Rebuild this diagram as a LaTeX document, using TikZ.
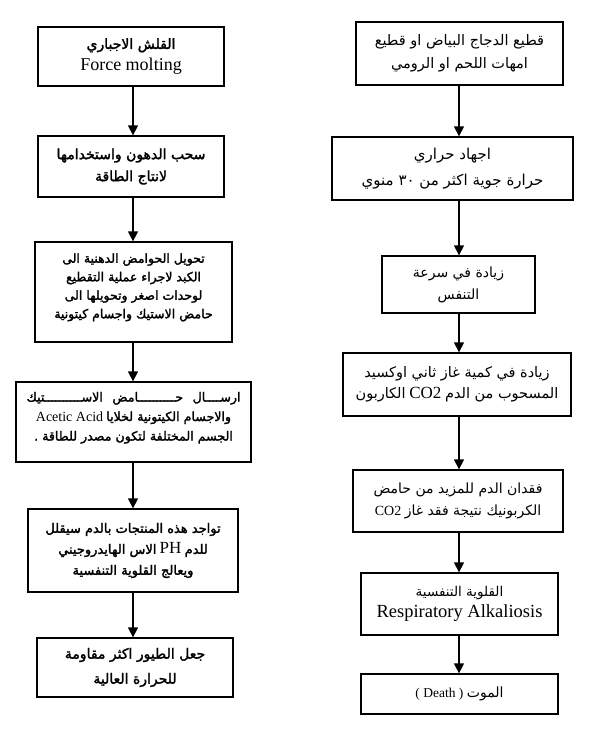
\documentclass[tikz,border=0pt]{standalone}
\usepackage{fontspec}
\usetikzlibrary{arrows.meta}
\setmainfont{Liberation Serif}
\newfontfamily\arfont[Script=Arabic]{DejaVu Sans}
\newfontfamily\arfontb[Script=Arabic,FakeBold=2]{DejaVu Sans}
\TeXXeTstate=1
\newcommand\AR[1]{{\arfont\beginR #1\endR}}
\newcommand\ARB[1]{{\arfontb\beginR #1\endR}}
\newcommand\EN[2]{{\fontsize{#1}{#1}\selectfont #2}}
\newcommand\fs[2]{\fontsize{#1}{#2}\selectfont}
\begin{document}
\begin{tikzpicture}[x=1pt,y=-1pt,
  box/.style={draw,line width=1.3pt,inner sep=0pt,align=center},
  arr/.style={line width=1.3pt,-{Triangle[length=10pt,width=10pt]}}]
\useasboundingbox (0,0) rectangle (605,748);
\coordinate (lc) at (133,0);
\coordinate (rc) at (459,0);
% left column
\node[box,font=\fs{14}{21},minimum width=186pt,minimum height=59pt] (L1) at (131,56.5)
  {\ARB{القلش الاجباري}\\[1pt]\EN{18}{Force molting}};
\node[box,font=\fs{14}{22},minimum width=186pt,minimum height=61pt] (L2) at (131,166.5)
  {\ARB{سحب الدهون واستخدامها}\\\ARB{لانتاج الطاقة}};
\node[box,font=\fs{12.5}{18.5},minimum width=197pt,minimum height=100pt] (L3) at (133.5,292)
  {\ARB{تحويل الحوامض الدهنية الى}\\\ARB{الكبد لاجراء عملية التقطيع}\\\ARB{لوحدات اصغر وتحويلها الى}\\\ARB{حامض الاستيك واجسام كيتونية}\\[-6pt]\mbox{}};
\node[box,font=\fs{12.6}{19.5},minimum width=235pt,minimum height=80pt] (L4) at (133.5,422)
  {\leavevmode\hbox to 214pt{\ARB{الاســــــــــتيك}\hfill\ARB{حــــــــــامض}\hfill\ARB{ارســــال}}\\\EN{14}{Acetic Acid} \ARB{والاجسام الكيتونية لخلايا}\\\ARB{الجسم المختلفة لتكون مصدر للطاقة .}\\[-8pt]\mbox{}};
\node[box,font=\fs{13}{21},minimum width=210pt,minimum height=83pt] (L5) at (133,550.5)
  {\ARB{تواجد هذه المنتجات بالدم سيقلل}\\\ARB{الاس الهايدروجيني} \EN{17}{PH} \ARB{للدم}\\\ARB{ويعالج القلوية التنفسية}};
\node[box,font=\fs{14}{25},minimum width=196pt,minimum height=59pt] (L6) at (135,667.5)
  {\ARB{جعل الطيور اكثر مقاومة}\\\ARB{للحرارة العالية}};
% right column
\node[box,font=\fs{14.5}{22.5},minimum width=207pt,minimum height=63pt] (R1) at (459.5,53.5)
  {\AR{قطيع الدجاج البياض او قطيع}\\\AR{امهات اللحم او الرومي}};
\node[box,font=\fs{15}{26},minimum width=241pt,minimum height=63pt] (R2) at (452.5,168.5)
  {\AR{اجهاد حراري}\\\AR{حرارة جوية اكثر من \beginL٣٠\endL{} منوي}};
\node[box,font=\fs{14}{22},minimum width=153pt,minimum height=57pt] (R3) at (458.5,284.5)
  {\AR{زيادة في سرعة}\\\AR{التنفس}};
\node[box,font=\fs{14.5}{21},minimum width=228pt,minimum height=63pt] (R4) at (457,384.5)
  {\AR{زيادة في كمية غاز ثاني اوكسيد}\\\AR{الكاربون} \EN{17}{CO2} \AR{المسحوب من الدم}};
\node[box,font=\fs{14}{22},minimum width=210pt,minimum height=62pt] (R5) at (458,501)
  {\AR{فقدان الدم للمزيد من حامض}\\\EN{14}{CO2} \AR{الكربونيك نتيجة فقد غاز}};
\node[box,font=\fs{13.5}{21.5},minimum width=197pt,minimum height=62pt] (R6) at (459.5,604)
  {\AR{القلوية التنفسية}\\\EN{18.5}{Respiratory Alkaliosis}};
\node[box,font=\fs{14}{20},minimum width=197pt,minimum height=40pt] (R7) at (459.5,694)
  {\EN{13.5}{( Death )} \AR{الموت}};
% arrows
\foreach \a/\b in {L1/L2,L2/L3,L3/L4,L4/L5,L5/L6}
  \draw[arr] (lc |- \a.south) -- (lc |- \b.north);
\foreach \a/\b in {R1/R2,R2/R3,R3/R4,R4/R5,R5/R6,R6/R7}
  \draw[arr] (rc |- \a.south) -- (rc |- \b.north);
\end{tikzpicture}
\end{document}
